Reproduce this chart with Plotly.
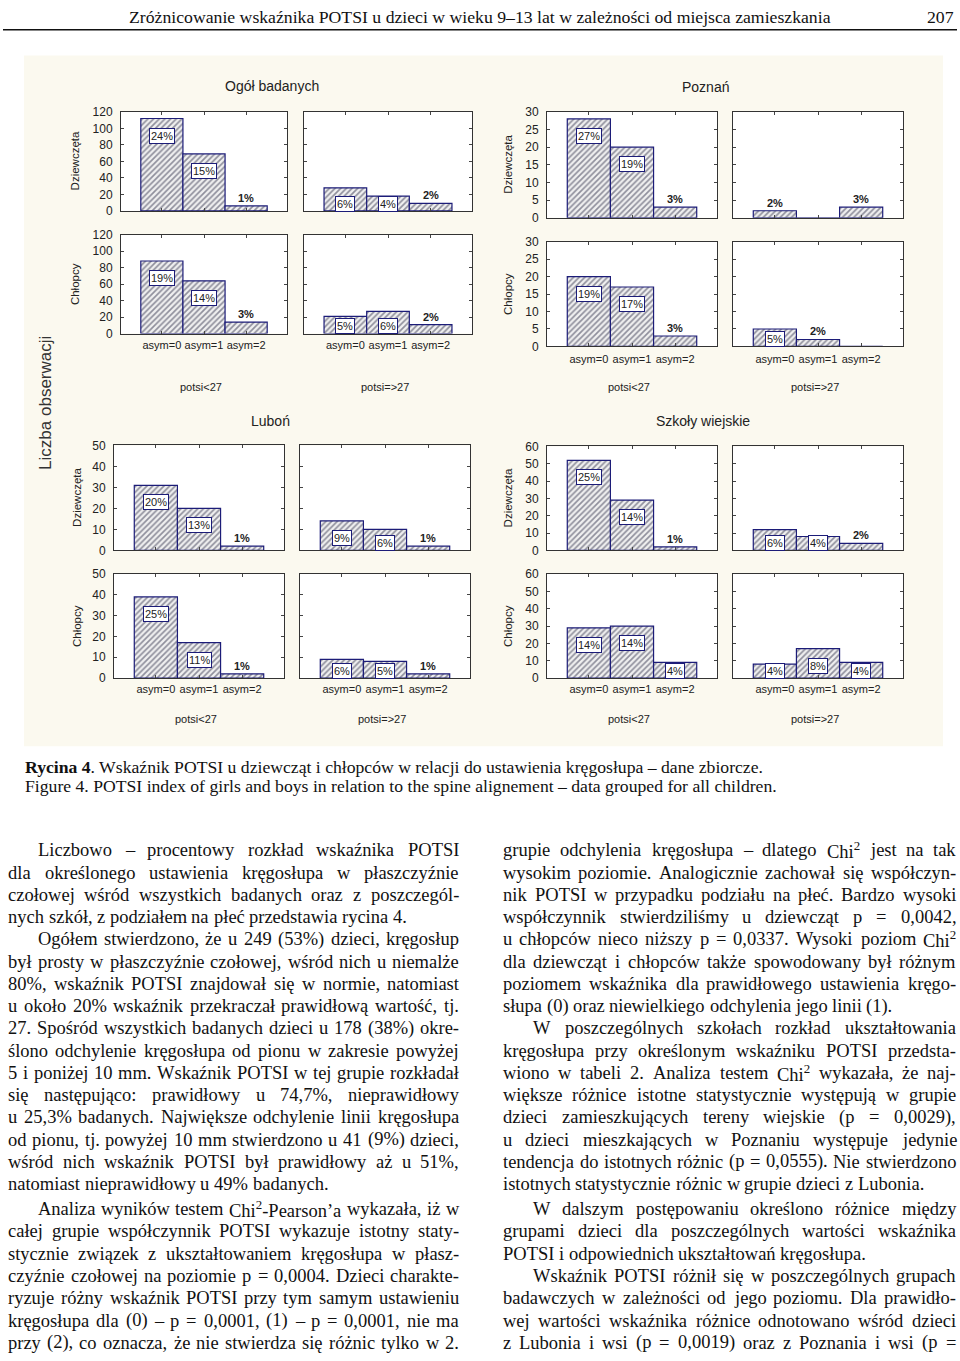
import plotly.graph_objects as go

W, H = 960, 1361

# ---------------- data ----------------
categories = ["asym=0", "asym=1", "asym=2"]
potsi_groups = ["potsi&lt;27", "potsi=&gt;27"]
sex_labels = ["Dziewczęta", "Chłopcy"]
panel_titles = ["Ogół badanych", "Poznań", "Luboń", "Szkoły wiejskie"]

ogol_girls_lt = [112, 69, 6]
ogol_girls_ge = [28, 18, 9]
ogol_boys_lt = [88, 64, 14]
ogol_boys_ge = [21, 27, 11]
ogol_girls_lt_pct = ["24%", "15%", "1%"]
ogol_girls_ge_pct = ["6%", "4%", "2%"]
ogol_boys_lt_pct = ["19%", "14%", "3%"]
ogol_boys_ge_pct = ["5%", "6%", "2%"]

poznan_girls_lt = [28, 20, 3]
poznan_girls_ge = [2, 0, 3]
poznan_boys_lt = [20, 17, 3]
poznan_boys_ge = [5, 2, 0]
poznan_girls_lt_pct = ["27%", "19%", "3%"]
poznan_girls_ge_pct = ["2%", "", "3%"]
poznan_boys_lt_pct = ["19%", "17%", "3%"]
poznan_boys_ge_pct = ["5%", "2%", ""]

lubon_girls_lt = [31, 20, 2]
lubon_girls_ge = [14, 10, 2]
lubon_boys_lt = [39, 17, 2]
lubon_boys_ge = [9, 8, 2]
lubon_girls_lt_pct = ["20%", "13%", "1%"]
lubon_girls_ge_pct = ["9%", "6%", "1%"]
lubon_boys_lt_pct = ["25%", "11%", "1%"]
lubon_boys_ge_pct = ["6%", "5%", "1%"]

wies_girls_lt = [52, 29, 2]
wies_girls_ge = [12, 8, 4]
wies_boys_lt = [29, 30, 9]
wies_boys_ge = [8, 17, 9]
wies_girls_lt_pct = ["25%", "14%", "1%"]
wies_girls_ge_pct = ["6%", "4%", "2%"]
wies_boys_lt_pct = ["14%", "14%", "4%"]
wies_boys_ge_pct = ["4%", "8%", "4%"]

y_max = [120, 30, 50, 60]
y_dtick = [20, 5, 10, 10]

header_text = "Zróżnicowanie wskaźnika POTSI u dzieci w wieku 9–13 lat w zależności od miejsca zamieszkania"
page_number = "207"
caption_pl = ("<b>Rycina 4</b>. Wskaźnik POTSI u dziewcząt i chłopców w relacji do ustawienia "
              "kręgosłupa – dane zbiorcze.")
caption_en = "Figure 4. POTSI index of girls and boys in relation to the spine alignement – data grouped for all children."
y_common_label = "Liczba obserwacji"

left_lines = [
    "Liczbowo – procentowy rozkład wskaźnika POTSI",
    "dla określonego ustawienia kręgosłupa w płaszczyźnie",
    "czołowej wśród wszystkich badanych oraz z poszczegól-",
    "nych szkół, z podziałem na płeć przedstawia rycina 4.",
    "Ogółem stwierdzono, że u 249 (53%) dzieci, kręgosłup",
    "był prosty w płaszczyźnie czołowej, wśród nich u niemalże",
    "80%, wskaźnik POTSI znajdował się w normie, natomiast",
    "u około 20% wskaźnik przekraczał prawidłową wartość, tj.",
    "27. Spośród wszystkich badanych dzieci u 178 (38%) okre-",
    "ślono odchylenie kręgosłupa od pionu w zakresie powyżej",
    "5 i poniżej 10 mm. Wskaźnik POTSI w tej grupie rozkładał",
    "się następująco: prawidłowy u 74,7%, nieprawidłowy",
    "u 25,3% badanych. Największe odchylenie linii kręgosłupa",
    "od pionu, tj. powyżej 10 mm stwierdzono u 41 (9%) dzieci,",
    "wśród nich wskaźnik POTSI był prawidłowy aż u 51%,",
    "natomiast nieprawidłowy u 49% badanych.",
    "Analiza wyników testem Chi²-Pearson’a wykazała, iż w",
    "całej grupie współczynnik POTSI wykazuje istotny staty-",
    "stycznie związek z ukształtowaniem kręgosłupa w płasz-",
    "czyźnie czołowej na poziomie p = 0,0004. Dzieci charakte-",
    "ryzuje różny wskaźnik POTSI przy tym samym ustawieniu",
    "kręgosłupa dla (0) – p = 0,0001, (1) – p = 0,0001, nie ma",
    "przy (2), co oznacza, że nie stwierdza się różnic tylko w 2.",
]
right_lines = [
    "grupie odchylenia kręgosłupa – dlatego Chi² jest na tak",
    "wysokim poziomie. Analogicznie zachował się współczyn-",
    "nik POTSI w przypadku podziału na płeć. Bardzo wysoki",
    "współczynnik stwierdziliśmy u dziewcząt p = 0,0042,",
    "u chłopców nieco niższy p = 0,0337. Wysoki poziom Chi²",
    "dla dziewcząt i chłopców także spowodowany był różnym",
    "poziomem wskaźnika dla prawidłowego ustawienia kręgo-",
    "słupa (0) oraz niewielkiego odchylenia jego linii (1).",
    "W poszczególnych szkołach rozkład ukształtowania",
    "kręgosłupa przy określonym wskaźniku POTSI przedsta-",
    "wiono w tabeli 2. Analiza testem Chi² wykazała, że naj-",
    "większe różnice istotne statystycznie występują w grupie",
    "dzieci zamieszkujących tereny wiejskie (p = 0,0029),",
    "u dzieci mieszkających w Poznaniu występuje jedynie",
    "tendencja do istotnych różnic (p = 0,0555). Nie stwierdzono",
    "istotnych statystycznie różnic w grupie dzieci z Lubonia.",
    "W dalszym postępowaniu określono różnice między",
    "grupami dzieci dla poszczególnych wartości wskaźnika",
    "POTSI i odpowiednich ukształtowań kręgosłupa.",
    "Wskaźnik POTSI różnił się w poszczególnych grupach",
    "badawczych w zależności od jego poziomu. Dla prawidło-",
    "wej wartości wskaźnika różnice odnotowano wśród dzieci",
    "z Lubonia i wsi (p = 0,0019) oraz z Poznania i wsi (p =",
]
left_par_start = {0, 4, 16}
left_par_end = {3, 15}
right_par_start = {8, 16, 19}
right_par_end = {7, 15, 18}

data = [
    [[ogol_girls_lt, ogol_girls_ge], [ogol_boys_lt, ogol_boys_ge]],
    [[poznan_girls_lt, poznan_girls_ge], [poznan_boys_lt, poznan_boys_ge]],
    [[lubon_girls_lt, lubon_girls_ge], [lubon_boys_lt, lubon_boys_ge]],
    [[wies_girls_lt, wies_girls_ge], [wies_boys_lt, wies_boys_ge]],
]
pcts = [
    [[ogol_girls_lt_pct, ogol_girls_ge_pct], [ogol_boys_lt_pct, ogol_boys_ge_pct]],
    [[poznan_girls_lt_pct, poznan_girls_ge_pct], [poznan_boys_lt_pct, poznan_boys_ge_pct]],
    [[lubon_girls_lt_pct, lubon_girls_ge_pct], [lubon_boys_lt_pct, lubon_boys_ge_pct]],
    [[wies_girls_lt_pct, wies_girls_ge_pct], [wies_boys_lt_pct, wies_boys_ge_pct]],
]

# ---------------- layout geometry (pixels) ----------------
panels = [
    dict(xs=[(121, 287), (304, 472)], rows=[(106, 206), (230, 330)], title=(272, 80), ylab_x=75, cat_y=344, potsi_y=384),
    dict(xs=[(547, 717), (733, 903)], rows=[(106, 213), (237, 343)], title=(705, 81), ylab_x=508, cat_y=358, potsi_y=384),
    dict(xs=[(114, 284), (300, 470)], rows=[(443, 549), (573, 678)], title=(270, 418), ylab_x=77, cat_y=692, potsi_y=719),
    dict(xs=[(547, 717), (733, 903)], rows=[(444, 549), (573, 678)], title=(703, 418), ylab_x=508, cat_y=692, potsi_y=719),
]

SANS = "Liberation Sans, Arial, sans-serif"
SERIF = "Liberation Serif, Times New Roman, serif"
INK = "#222222"
NAVY = "#1c1c78"


def px(x):
    return x / W


def py(y):
    return 1 - y / H


def paper_text(x, y, text, size, family=SANS, color=INK, angle=0, xanchor="center"):
    return dict(x=px(x), y=py(y), xref="paper", yref="paper", text=text, showarrow=False,
                xanchor=xanchor, yanchor="middle", textangle=angle, borderpad=0,
                font=dict(family=family, size=size, color=color))


fig = go.Figure()
annotations = []
shapes = [dict(type="rect", xref="paper", yref="paper", x0=px(24), x1=px(943), y0=py(747), y1=py(49),
               fillcolor="#fbf9ef", line=dict(width=0), layer="below")]
layout_axes = {}

n = 0
for p, panel in enumerate(panels):
    for r, (T, B) in enumerate(panel["rows"]):
        for c, (L, R) in enumerate(panel["xs"]):
            n += 1
            sfx = "" if n == 1 else str(n)
            vals = data[p][r][c]
            labs = pcts[p][r][c]
            fig.add_trace(go.Bar(
                x=[0, 1, 2], y=vals, width=1, xaxis="x" + sfx, yaxis="y" + sfx,
                showlegend=False, hoverinfo="skip",
                marker=dict(color="#eeeeee",
                            pattern=dict(shape="/", fgcolor="#2e2e48", bgcolor="#f0f0f0", size=4, solidity=0.42),
                            line=dict(color=NAVY, width=1.2)),
            ))
            layout_axes["xaxis" + sfx] = dict(
                domain=[px(L), px(R)], anchor="y" + sfx, range=[-0.97, 2.97],
                tickvals=[0, 1, 2], ticktext=categories, showticklabels=(r == 1),
                ticks="inside", ticklen=3, tickcolor="#444", mirror="ticks",
                showline=True, linecolor="#333", linewidth=1, showgrid=False, zeroline=False,
                tickfont=dict(family=SANS, size=11, color=INK),
                ticklabelstandoff=max(0, panel["cat_y"] - B - 13), fixedrange=True,
            )
            layout_axes["yaxis" + sfx] = dict(
                domain=[py(B), py(T)], anchor="x" + sfx, range=[0, y_max[p]], dtick=y_dtick[p],
                showticklabels=(c == 0), ticks="inside", ticklen=3, tickcolor="#444", mirror="ticks",
                showline=True, linecolor="#333", linewidth=1, showgrid=False, zeroline=False,
                tickfont=dict(family=SANS, size=12, color=INK), ticklabelstandoff=5, fixedrange=True,
            )
            shapes.append(dict(type="rect", xref="x%s domain" % sfx, yref="y%s domain" % sfx,
                               x0=0, x1=1, y0=0, y1=1, fillcolor="white", line=dict(width=0), layer="below"))
            ppu = (B - T) / y_max[p]
            for i, (v, lab) in enumerate(zip(vals, labs)):
                if not lab:
                    continue
                h = v * ppu
                if h >= 14:
                    annotations.append(dict(
                        x=i, y=v, xref="x" + sfx, yref="y" + sfx, text=lab, showarrow=False,
                        xanchor="center", yanchor="middle", yshift=-min(17, h - 7.5),
                        bgcolor="white", bordercolor=NAVY, borderwidth=1, borderpad=1,
                        font=dict(family=SANS, size=11, color=INK)))
                else:
                    annotations.append(dict(
                        x=i, y=v, xref="x" + sfx, yref="y" + sfx, text="<b>%s</b>" % lab, showarrow=False,
                        xanchor="center", yanchor="middle", yshift=8,
                        font=dict(family=SANS, size=11, color=INK)))
            if c == 0:
                annotations.append(paper_text(panel["ylab_x"], (T + B) / 2, sex_labels[r], 11.5, angle=-90))
            if r == 1:
                annotations.append(paper_text((L + R) / 2 - 3, panel["potsi_y"], potsi_groups[c], 11))
    annotations.append(paper_text(panel["title"][0], panel["title"][1], panel_titles[p], 14))

annotations.append(paper_text(46, 400, y_common_label, 17, color="#333", angle=-90))

# ---------------- text metrics (Times-compatible widths) ----------------
TW = dict(zip("abcdefghijklmnopqrstuvwxyz",
              [444, 500, 444, 500, 444, 333, 500, 500, 278, 278, 500, 278, 778, 500, 500, 500, 500, 333, 389, 278,
               500, 500, 722, 500, 500, 444]))
TW.update(zip("ABCDEFGHIJKLMNOPQRSTUVWXYZ",
              [722, 667, 667, 722, 611, 556, 722, 722, 333, 389, 722, 611, 889, 722, 722, 556, 722, 667, 556, 611,
               722, 722, 944, 722, 722, 611]))
TW.update({d: 500 for d in "0123456789"})
TW.update({" ": 250, ".": 250, ",": 250, ":": 278, ";": 278, "(": 333, ")": 333, "-": 333, "–": 500,
           "%": 833, "=": 564, "’": 333, "'": 180, "²": 330, "/": 278})
for a, b in zip("ąćęłńóśźżĄĆĘŁŃÓŚŹŻ", "acelnoszzACELNOSZZ"):
    TW[a] = TW[b]


def units(s):
    return sum(TW.get(ch, 500) for ch in s)


def fmt(s):
    return s.replace("²", "<sup>2</sup>")


BODY = 18.5
LINE0, PITCH = 852, 22.5


def place_column(lines, x0, x1, starts, ends):
    for i, line in enumerate(lines):
        y = LINE0 + PITCH * i + (2.7 if i >= 16 else 0)
        xs = x0 + (30 if i in starts else 0)
        words = line.split(" ")
        ws = [units(w) * BODY / 1000 for w in words]
        if i in ends or len(words) < 2:
            gap = 250 * BODY / 1000
        else:
            gap = (x1 - xs - sum(ws)) / (len(words) - 1)
        x = xs
        for w, wd in zip(words, ws):
            annotations.append(paper_text(x, y, fmt(w), BODY, family=SERIF, color="#111", xanchor="left"))
            x += wd + gap


place_column(left_lines, 7, 458, left_par_start, left_par_end)
place_column(right_lines, 502, 955, right_par_start, right_par_end)

head_size = 702 / units(header_text) * 1000
annotations.append(paper_text(128, 10, header_text, head_size, family=SERIF, color="#111", xanchor="left"))
annotations.append(paper_text(955, 10, page_number, head_size, family=SERIF, color="#111", xanchor="right"))
shapes.append(dict(type="line", xref="paper", yref="paper", x0=px(3), x1=px(957), y0=py(23), y1=py(23),
                   line=dict(color="#111", width=1.5)))

cap_size = 752 / units(caption_en) * 1000
annotations.append(paper_text(24, 768, caption_pl, cap_size, family=SERIF, color="#111", xanchor="left"))
annotations.append(paper_text(24, 787, caption_en, cap_size, family=SERIF, color="#111", xanchor="left"))

fig.update_layout(
    width=W, height=H, margin=dict(l=0, r=0, t=0, b=0),
    paper_bgcolor="white", plot_bgcolor="white",
    bargap=0, barmode="overlay", hovermode=False,
    annotations=annotations, shapes=shapes, **layout_axes,
)

fig.write_html("out.html", config={"displayModeBar": False, "staticPlot": True},
               post_script="document.body.style.margin='0';document.body.style.overflow='hidden';")
